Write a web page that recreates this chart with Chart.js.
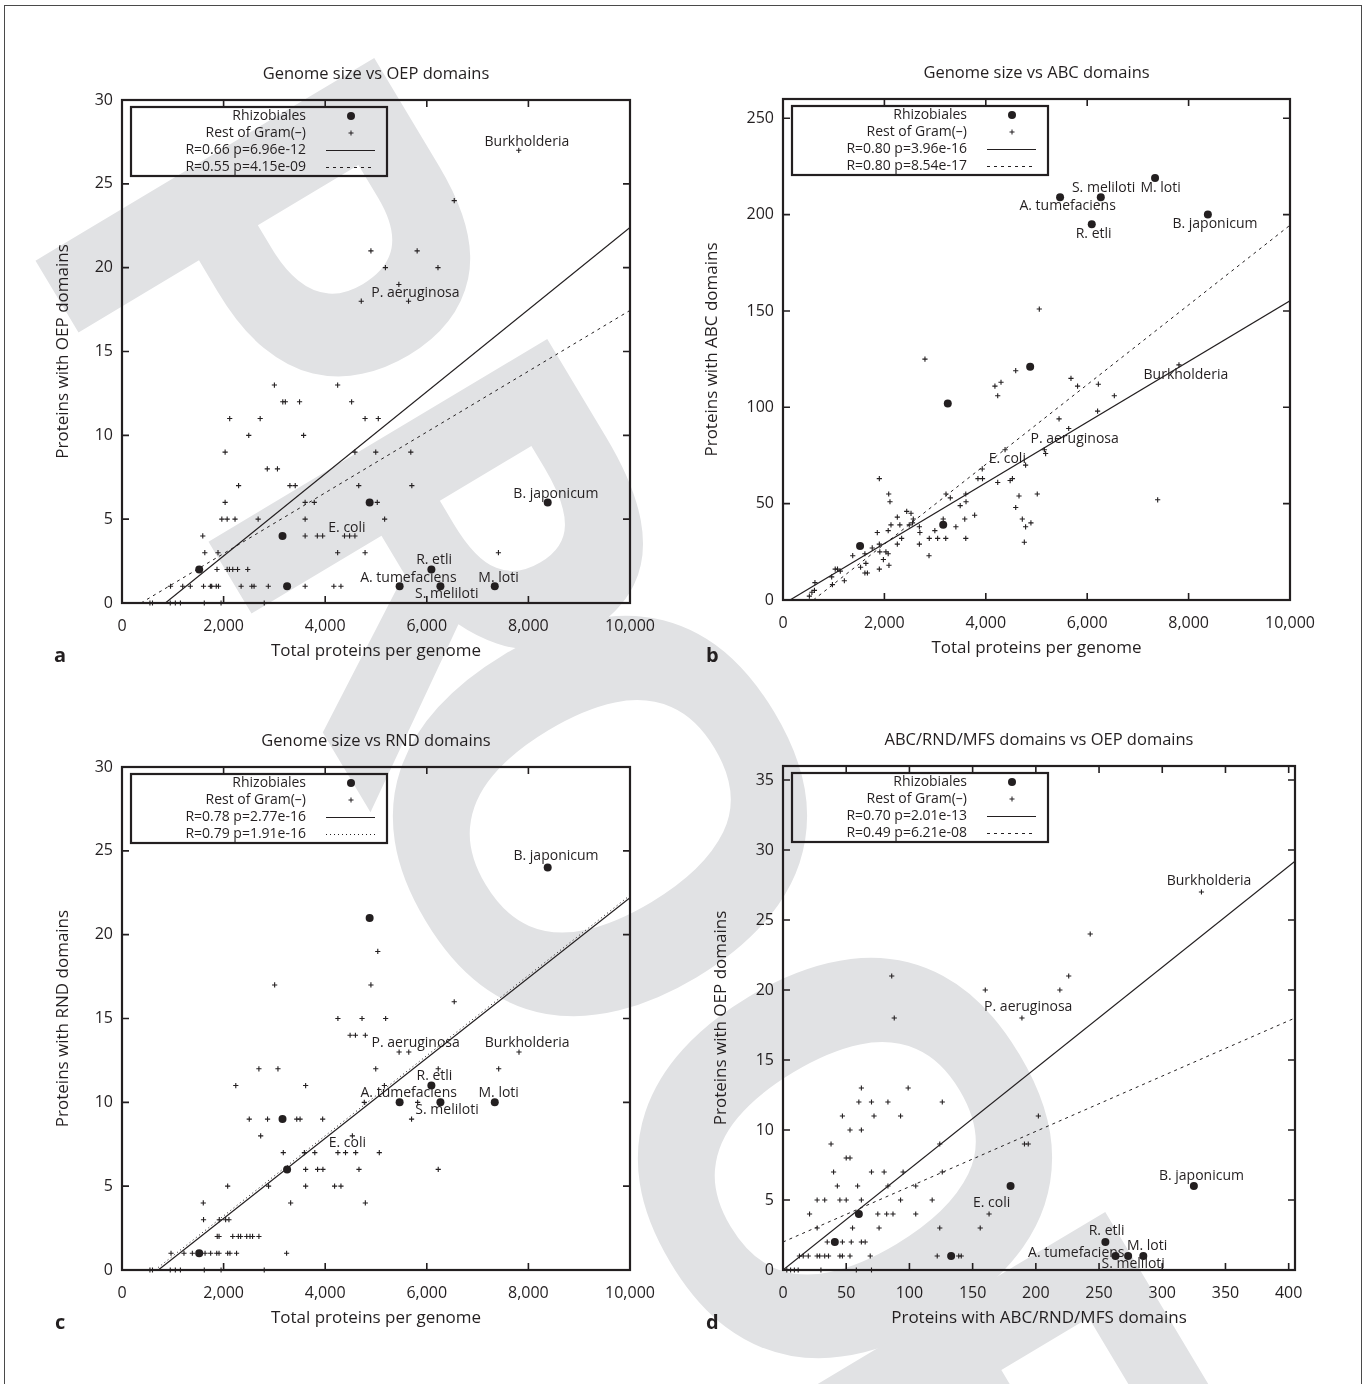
<!DOCTYPE html>
<html>
<head>
<meta charset="utf-8">
<title>Genome size vs transporter domains</title>
<script src="https://cdn.jsdelivr.net/npm/chart.js@4.4.1/dist/chart.umd.min.js"></script>
<style>
  body { margin: 0; width: 1367px; height: 1384px; overflow: hidden; position: relative; background: #fff; }
  #frame { position: absolute; left: 4px; top: 5px; width: 1358px; height: 1440px; border: 1px solid #4a4a4a; box-sizing: border-box; }
  #stamp { position: absolute; left: 0; top: 0; }
  #stamp text { font-family: 'Open Sans', 'DejaVu Sans', sans-serif; font-weight: 700; font-size: 553px; fill: #e1e2e4; }
  canvas { position: absolute; }
  .tag { position: absolute; font: bold 20px 'Open Sans'; line-height: 20px; color: #231f20; }
</style>
</head>
<body>
<div id="frame"></div>
<!-- grey PROOF stamp behind the panels, one letter per text element -->
<svg id="stamp" width="1367" height="1384">
  <text x="10" y="218" transform="rotate(59.1 10 218)">P</text>
  <text x="183" y="499" transform="rotate(59.1 183 499)">R</text>
  <text x="317" y="729" transform="rotate(59.1 317 729)">O</text>
  <text x="562" y="1071" transform="rotate(59.1 562 1071)">O</text>
  <text x="741" y="1372" transform="rotate(59.1 741 1372)">F</text>
</svg>

<canvas id="panelA" width="678" height="623" style="left:37px;top:50px"></canvas>
<canvas id="panelB" width="677" height="621" style="left:698px;top:49px"></canvas>
<canvas id="panelC" width="678" height="623" style="left:37px;top:717px"></canvas>
<canvas id="panelD" width="682" height="624" style="left:698px;top:716px"></canvas>

<div class="tag" style="left:54px;top:645px">a</div>
<div class="tag" style="left:706px;top:645px">b</div>
<div class="tag" style="left:55px;top:1312px">c</div>
<div class="tag" style="left:706px;top:1312px">d</div>

<script>
// Rhizobiales: genome size and domain counts (same nine genomes in every panel)
const rhizoGenome = [1520, 3160, 3250, 4875, 5465, 6090, 6268, 7338, 8380];
const rhizoOEP = [2, 4, 1, 6, 1, 2, 1, 1, 6];
const rhizoABC = [28, 39, 102, 121, 209, 195, 209, 219, 200];
const rhizoRND = [1, 9, 6, 21, 10, 11, 10, 10, 24];
const rhizoTransport = [41, 60, 133, 180, 263, 255, 273, 285, 325];

// Rest of Gram(-): [genome size, OEP proteins]
const oepRest = [
  [7810, 27], [6540, 24], [4900, 21], [5810, 21], [5185, 20], [6220, 20], [5450, 19], [4710, 18], [5640, 18],
  [3000, 13], [4245, 13], [3165, 12], [3215, 12], [3495, 12], [4520, 12],
  [2120, 11], [2720, 11], [4785, 11], [5045, 11], [2495, 10], [3575, 10],
  [2030, 9], [4585, 9], [4995, 9], [5685, 9], [2860, 8], [3060, 8],
  [2295, 7], [3305, 7], [3410, 7], [4660, 7], [5705, 7],
  [2030, 6], [3605, 6], [3785, 6], [5025, 6],
  [1965, 5], [2070, 5], [2225, 5], [2680, 5], [3605, 5], [5170, 5],
  [1590, 4], [3605, 4], [3845, 4], [3950, 4], [4380, 4], [4480, 4], [4585, 4],
  [1630, 3], [1890, 3], [4245, 3], [4785, 3], [7410, 3],
  [1870, 2], [2070, 2], [2115, 2], [2180, 2], [2275, 2], [2475, 2],
  [955, 1], [1195, 1], [1345, 1], [1605, 1], [1740, 1], [1765, 1], [1855, 1], [1900, 1],
  [2345, 1], [2555, 1], [2600, 1], [2880, 1], [3605, 1], [4170, 1], [4310, 1],
  [550, 0], [600, 0], [950, 0], [1050, 0], [1150, 0], [1620, 0], [1950, 0], [2800, 0]
];

// Rest of Gram(-): [genome size, ABC proteins]
const abcRest = [
  [5055, 151], [2800, 125], [4590, 119], [4180, 111], [4300, 113], [4235, 106], [5680, 115], [5810, 111],
  [6220, 112], [6535, 106], [7810, 122], [6205, 98], [5445, 94], [5635, 89], [5155, 78], [5180, 76],
  [4380, 78], [4785, 70], [3930, 68], [3845, 63], [3935, 63], [4525, 63], [4480, 62], [4235, 61],
  [1900, 63], [2085, 55], [2110, 51], [3215, 55], [3300, 53], [3605, 55], [3610, 51], [3495, 49],
  [4655, 54], [5015, 55], [7390, 52], [4590, 48], [4720, 42], [4785, 38], [4890, 40], [4760, 30],
  [3780, 44], [3585, 42], [3410, 38], [3160, 42], [2995, 36], [2885, 32], [3050, 32], [3210, 32],
  [3605, 32], [2690, 38], [2700, 35], [2690, 29], [2880, 23], [2440, 46], [2525, 45], [2570, 42],
  [2555, 40], [2490, 39], [2255, 43], [2305, 39], [2130, 39], [2075, 36], [2340, 32], [2255, 29],
  [2075, 24], [2030, 25], [1980, 21], [2090, 18], [1860, 35], [1900, 29], [1760, 27], [1910, 25],
  [1900, 16], [1615, 24], [1635, 19], [1530, 17], [1615, 14], [1665, 14], [1375, 23], [1130, 15],
  [1075, 16], [1030, 16], [1210, 10], [960, 12], [975, 8], [630, 9], [620, 5], [570, 4], [520, 2]
];

// Rest of Gram(-): [genome size, RND proteins]
const rndRest = [
  [5035, 19], [3005, 17], [4900, 17], [6540, 16], [4250, 15], [4725, 15], [5190, 15],
  [4490, 14], [4595, 14], [4790, 14], [5455, 13], [5645, 13], [7815, 13],
  [2695, 12], [3070, 12], [4995, 12], [6225, 12], [7415, 12], [2240, 11], [3615, 11], [5165, 11],
  [4770, 10], [5820, 10], [2505, 9], [2865, 9], [3440, 9], [3505, 9], [3950, 9], [5700, 9],
  [2730, 8], [4535, 8], [3175, 7], [3590, 7], [3795, 7], [4250, 7], [4400, 7], [4600, 7], [5065, 7],
  [3615, 6], [3850, 6], [3955, 6], [4665, 6], [6225, 6],
  [2080, 5], [2885, 5], [3615, 5], [4185, 5], [4310, 5], [1600, 4], [3320, 4], [4790, 4],
  [1605, 3], [1915, 3], [2040, 3], [2105, 3],
  [1875, 2], [1910, 2], [2180, 2], [2290, 2], [2335, 2], [2455, 2], [2520, 2], [2570, 2], [2695, 2],
  [965, 1], [1220, 1], [1385, 1], [1635, 1], [1745, 1], [1865, 1], [1910, 1], [2080, 1], [2125, 1],
  [2255, 1], [3240, 1],
  [550, 0], [600, 0], [950, 0], [1050, 0], [1150, 0], [1620, 0], [1950, 0], [2800, 0]
];

// Rest of Gram(-): [ABC/RND/MFS proteins, OEP proteins]
const transportRest = [
  [331, 27], [243, 24], [86, 21], [226, 21], [160, 20], [219, 20], [88, 18], [189, 18],
  [62, 13], [99, 13], [60, 12], [70, 12], [83, 12], [126, 12], [47, 11], [72, 11], [93, 11], [202, 11],
  [53, 10], [62, 10], [38, 9], [124, 9], [191, 9], [194, 9], [50, 8], [53, 8],
  [40, 7], [70, 7], [80, 7], [95, 7], [126, 7], [43, 6], [59, 6], [83, 6], [105, 6],
  [27, 5], [33, 5], [45, 5], [50, 5], [62, 5], [93, 5], [118, 5],
  [21, 4], [75, 4], [82, 4], [87, 4], [105, 4], [163, 4],
  [27, 3], [55, 3], [76, 3], [124, 3], [156, 3],
  [35, 2], [40, 2], [47, 2], [54, 2], [62, 2], [65, 2],
  [13, 1], [16, 1], [20, 1], [27, 1], [29, 1], [33, 1], [36, 1], [45, 1], [47, 1], [53, 1],
  [69, 1], [122, 1], [139, 1], [141, 1],
  [3, 0], [6, 0], [9, 0], [12, 0], [30, 0], [58, 0], [70, 0]
];

const oepFitAll = [[854, 0], [10000, 22.4]];
const oepFitRest = [[374, 0], [10000, 17.45]];
const abcFitAll = [[138, 0], [10000, 155.3]];
const abcFitRest = [[598, 0], [10000, 194.5]];
const rndFitAll = [[715, 0], [10000, 22.2]];
const rndFitRest = [[650, 0], [10000, 22.35]];
const transportFitAll = [[0, 0], [405, 29.2]];
const transportFitRest = [[0, 2.0], [405, 18.0]];

// Legend texts
const legendOEP = ['Rhizobiales', 'Rest of Gram(\u2013)', 'R=0.66 p=6.96e-12', 'R=0.55 p=4.15e-09'];
const legendABC = ['Rhizobiales', 'Rest of Gram(\u2013)', 'R=0.80 p=3.96e-16', 'R=0.80 p=8.54e-17'];
const legendRND = ['Rhizobiales', 'Rest of Gram(\u2013)', 'R=0.78 p=2.77e-16', 'R=0.79 p=1.91e-16'];
const legendTransport = ['Rhizobiales', 'Rest of Gram(\u2013)', 'R=0.70 p=2.01e-13', 'R=0.49 p=6.21e-08'];

// Species names, anchored in data units
const namesOEP = [
  ['Burkholderia', 7970, 27.5], ['P. aeruginosa', 5775, 18.5], ['B. japonicum', 8541, 6.5],
  ['E. coli', 4428, 4.5], ['R. etli', 6143, 2.55], ['A. tumefaciens', 5637, 1.5],
  ['M. loti', 7411, 1.5], ['S. meliloti', 6393, 0.52]
];
const namesABC = [
  ['S. meliloti', 6324, 214], ['M. loti', 7448, 214], ['A. tumefaciens', 5614, 204.4],
  ['R. etli', 6127, 190], ['B. japonicum', 8519, 195], ['Burkholderia', 7947, 116.7],
  ['P. aeruginosa', 5752, 83.5], ['E. coli', 4424, 73]
];
const namesRND = [
  ['B. japonicum', 8543, 24.7], ['P. aeruginosa', 5781, 13.56], ['Burkholderia', 7975, 13.56],
  ['R. etli', 6151, 11.57], ['A. tumefaciens', 5644, 10.54], ['M. loti', 7415, 10.54],
  ['S. meliloti', 6398, 9.54], ['E. coli', 4436, 7.55]
];
const namesTransport = [
  ['Burkholderia', 337, 27.8], ['P. aeruginosa', 194, 18.76], ['B. japonicum', 331, 6.71],
  ['E. coli', 165, 4.76], ['R. etli', 256, 2.79], ['M. loti', 288, 1.71],
  ['A. tumefaciens', 232, 1.24], ['S. meliloti', 277, 0.4]
];

const ink = '#231f20';
const family = "'Open Sans', 'DejaVu Sans', sans-serif";

Chart.defaults.font.family = family;
Chart.defaults.color = ink;

// Turn two parallel arrays or a list of pairs into chart points
function zipPoints(xs, ys) {
  return xs.map((x, i) => ({ x: x, y: ys[i] }));
}
function pairPoints(pairs) {
  return pairs.map(p => ({ x: p[0], y: p[1] }));
}

// Box with inward tick marks on all four sides
const framePlugin = {
  id: 'frameTicks',
  afterDatasetsDraw(chart) {
    const { ctx, chartArea: a, scales } = chart;
    ctx.save();
    ctx.strokeStyle = ink;
    ctx.lineWidth = 1.6;
    ctx.beginPath();
    scales.x.ticks.forEach(t => {
      const px = scales.x.getPixelForValue(t.value);
      ctx.moveTo(px, a.bottom); ctx.lineTo(px, a.bottom - 7);
      ctx.moveTo(px, a.top); ctx.lineTo(px, a.top + 7);
    });
    scales.y.ticks.forEach(t => {
      const py = scales.y.getPixelForValue(t.value);
      ctx.moveTo(a.left, py); ctx.lineTo(a.left + 7, py);
      ctx.moveTo(a.right, py); ctx.lineTo(a.right - 7, py);
    });
    ctx.stroke();
    ctx.lineWidth = 2.2;
    ctx.strokeRect(a.left, a.top, a.right - a.left, a.bottom - a.top);
    ctx.restore();
  }
};

function makePanel(id, p) {
  // legend box in the top left corner of the plot
  const keyPlugin = {
    id: 'keyBox',
    afterDraw(chart) {
      const { ctx, chartArea } = chart;
      const left = chartArea.left + 9;
      const top = chartArea.top + 7;
      const rows = [9, 26, 43.5, 60.5];
      ctx.save();
      ctx.strokeStyle = ink;
      ctx.fillStyle = ink;
      ctx.lineWidth = 2.2;
      ctx.strokeRect(left, top, 256, 69);
      ctx.font = '14px ' + family;
      ctx.textAlign = 'right';
      ctx.textBaseline = 'middle';
      p.legend.forEach((text, i) => ctx.fillText(text, left + 175, top + rows[i]));

      ctx.beginPath();
      ctx.arc(left + 220, top + rows[0], 4, 0, Math.PI * 2);
      ctx.fill();

      ctx.lineWidth = 1;
      ctx.beginPath();
      ctx.moveTo(left + 217.5, top + rows[1]); ctx.lineTo(left + 222.5, top + rows[1]);
      ctx.moveTo(left + 220, top + rows[1] - 2.5); ctx.lineTo(left + 220, top + rows[1] + 2.5);
      ctx.stroke();

      ctx.lineWidth = 1.2;
      ctx.beginPath();
      ctx.moveTo(left + 195, top + rows[2]); ctx.lineTo(left + 244, top + rows[2]);
      ctx.stroke();

      ctx.lineWidth = 1;
      ctx.setLineDash(p.dash);
      ctx.beginPath();
      ctx.moveTo(left + 195, top + rows[3]); ctx.lineTo(left + 244, top + rows[3]);
      ctx.stroke();
      ctx.restore();
    }
  };

  // species names next to their points
  const namePlugin = {
    id: 'speciesNames',
    afterDatasetsDraw(chart) {
      const { ctx, scales } = chart;
      ctx.save();
      ctx.fillStyle = ink;
      ctx.font = '14px ' + family;
      ctx.textAlign = 'center';
      ctx.textBaseline = 'middle';
      p.names.forEach(n => {
        ctx.fillText(n[0], scales.x.getPixelForValue(n[1]), scales.y.getPixelForValue(n[2]));
      });
      ctx.restore();
    }
  };

  return new Chart(document.getElementById(id), {
    type: 'scatter',
    data: {
      datasets: [
        {
          label: 'Rhizobiales',
          data: zipPoints(p.rhizoX, p.rhizoY),
          pointStyle: 'circle',
          pointRadius: 4,
          backgroundColor: ink,
          borderWidth: 0,
          clip: false
        },
        {
          label: 'Rest of Gram(\u2013)',
          data: pairPoints(p.rest),
          pointStyle: 'cross',
          pointRadius: 2.6,
          borderColor: ink,
          borderWidth: 1.1,
          clip: false
        },
        {
          type: 'line',
          label: p.legend[2],
          data: pairPoints(p.fitAll),
          borderColor: ink,
          borderWidth: 1.2,
          pointRadius: 0,
          fill: false
        },
        {
          type: 'line',
          label: p.legend[3],
          data: pairPoints(p.fitRest),
          borderColor: ink,
          borderWidth: 1,
          borderDash: p.dash,
          pointRadius: 0,
          fill: false
        }
      ]
    },
    options: {
      responsive: false,
      animation: false,
      events: [],
      devicePixelRatio: 1,
      layout: { padding: 0 },
      plugins: {
        legend: { display: false },
        tooltip: { enabled: false },
        title: {
          display: true,
          text: p.title,
          color: ink,
          font: { size: 16.5, weight: 'normal', lineHeight: 1 },
          padding: { top: 16, bottom: 17.5 }
        }
      },
      scales: {
        x: {
          type: 'linear',
          min: p.xMin,
          max: p.xMax,
          afterFit: s => { s.height = 70; },
          grid: { display: false, drawTicks: false },
          border: { display: false },
          ticks: {
            stepSize: p.xStep,
            includeBounds: false,
            autoSkip: false,
            maxRotation: 0,
            padding: 14,
            color: ink,
            font: { size: 16 },
            callback: v => v.toLocaleString('en-US')
          },
          title: {
            display: true,
            text: p.xTitle,
            color: ink,
            font: { size: 17, lineHeight: 1 },
            padding: { top: 0, bottom: 13 }
          }
        },
        y: {
          type: 'linear',
          position: 'left',
          min: 0,
          max: p.yMax,
          afterFit: s => { s.width = 85; },
          grid: { display: false, drawTicks: false },
          border: { display: false },
          ticks: {
            stepSize: p.yStep,
            includeBounds: false,
            autoSkip: false,
            padding: 9,
            color: ink,
            font: { size: 16 }
          },
          title: {
            display: true,
            text: p.yTitle,
            color: ink,
            font: { size: 17, lineHeight: 1 },
            padding: { top: p.yTitlePad, bottom: 0 }
          }
        },
        // empty right-hand box so the title centres over the plot
        yRight: {
          type: 'linear',
          position: 'right',
          display: true,
          afterFit: s => { s.width = 85; },
          grid: { display: false },
          border: { display: false },
          ticks: { display: false }
        }
      }
    },
    plugins: [framePlugin, namePlugin, keyPlugin]
  });
}

makePanel('panelA', {
  title: 'Genome size vs OEP domains',
  xTitle: 'Total proteins per genome',
  yTitle: 'Proteins with OEP domains',
  rhizoX: rhizoGenome, rhizoY: rhizoOEP, rest: oepRest,
  fitAll: oepFitAll, fitRest: oepFitRest,
  legend: legendOEP, names: namesOEP, dash: [3, 4],
  xMin: 0, xMax: 10000, xStep: 2000, yMax: 30, yStep: 5, yTitlePad: 17.5
});

makePanel('panelB', {
  title: 'Genome size vs ABC domains',
  xTitle: 'Total proteins per genome',
  yTitle: 'Proteins with ABC domains',
  rhizoX: rhizoGenome, rhizoY: rhizoABC, rest: abcRest,
  fitAll: abcFitAll, fitRest: abcFitRest,
  legend: legendABC, names: namesABC, dash: [3, 4],
  xMin: 0, xMax: 10000, xStep: 2000, yMax: 260, yStep: 50, yTitlePad: 5.5
});

makePanel('panelC', {
  title: 'Genome size vs RND domains',
  xTitle: 'Total proteins per genome',
  yTitle: 'Proteins with RND domains',
  rhizoX: rhizoGenome, rhizoY: rhizoRND, rest: rndRest,
  fitAll: rndFitAll, fitRest: rndFitRest,
  legend: legendRND, names: namesRND, dash: [1, 3],
  xMin: 0, xMax: 10000, xStep: 2000, yMax: 30, yStep: 5, yTitlePad: 17.5
});

makePanel('panelD', {
  title: 'ABC/RND/MFS domains vs OEP domains',
  xTitle: 'Proteins with ABC/RND/MFS domains',
  yTitle: 'Proteins with OEP domains',
  rhizoX: rhizoTransport, rhizoY: rhizoOEP, rest: transportRest,
  fitAll: transportFitAll, fitRest: transportFitRest,
  legend: legendTransport, names: namesTransport, dash: [3, 4],
  xMin: 0, xMax: 405, xStep: 50, yMax: 36, yStep: 5, yTitlePad: 14.5
});
</script>
</body>
</html>
